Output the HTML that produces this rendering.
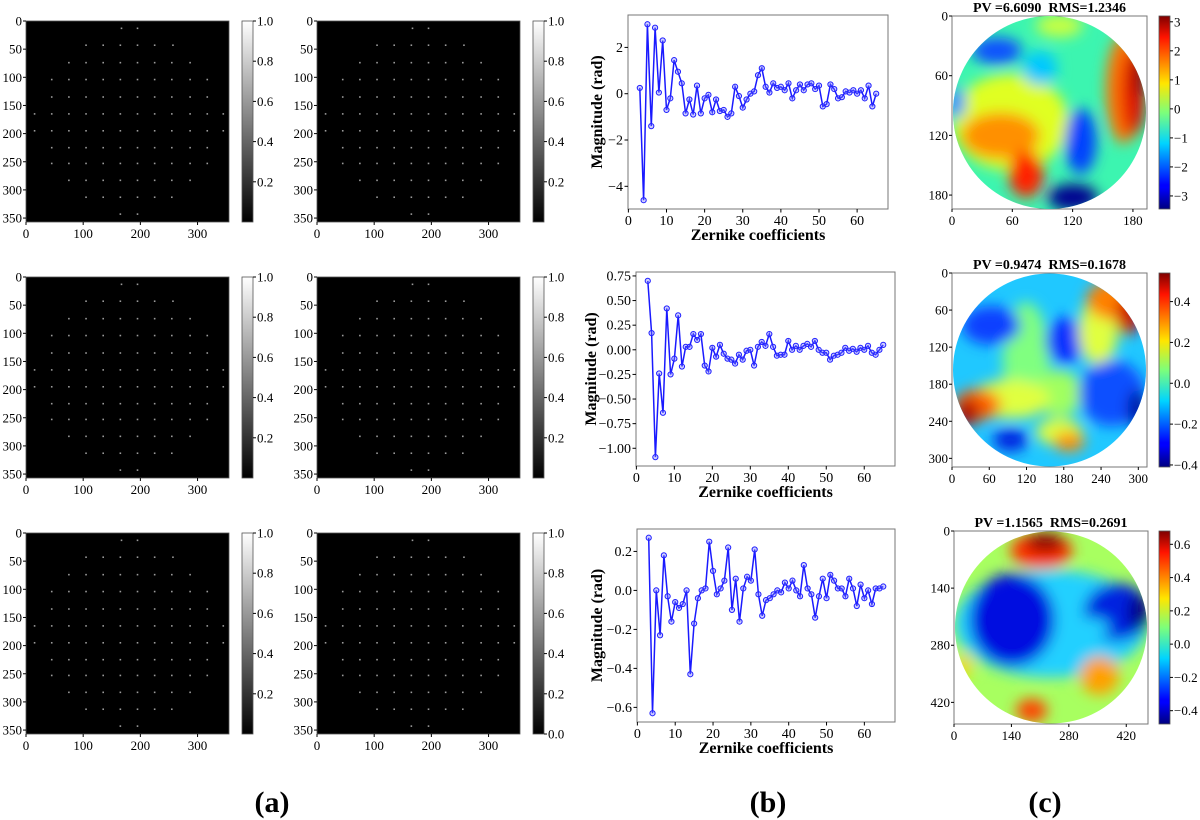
<!DOCTYPE html>
<html><head><meta charset="utf-8">
<style>
html,body{margin:0;padding:0;background:#fff;}
svg{display:block;font-family:"Liberation Serif",serif;}
</style></head>
<body>
<svg id="fig" width="1200" height="820" viewBox="0 0 1200 820" xmlns="http://www.w3.org/2000/svg">
<defs>
<linearGradient id="gray" x1="0" y1="1" x2="0" y2="0"><stop offset="0" stop-color="#000"/><stop offset="1" stop-color="#fff"/></linearGradient>
<linearGradient id="jet" x1="0" y1="1" x2="0" y2="0">
<stop offset="0" stop-color="#00007f"/><stop offset="0.11" stop-color="#0000ff"/><stop offset="0.125" stop-color="#0000ff"/>
<stop offset="0.34" stop-color="#00d4ff"/><stop offset="0.5" stop-color="#7dff7a"/><stop offset="0.65" stop-color="#ffe600"/>
<stop offset="0.89" stop-color="#ff1300"/><stop offset="1" stop-color="#7f0000"/></linearGradient>
<filter id="blur" x="-50%" y="-50%" width="200%" height="200%"><feGaussianBlur stdDeviation="7"/></filter>
</defs>
</svg>
<script>
// ---- data: Zernike coefficient magnitudes (index 3..65) ----
const zIndex = Array.from({length:63},(_,i)=>i+3);
const zRow1 = [0.25,-4.6,3.0,-1.4,2.85,0.05,2.3,-0.7,-0.2,1.45,0.95,0.45,-0.85,-0.25,-0.9,0.35,-0.85,-0.2,-0.05,-0.8,-0.25,-0.75,-0.7,-1.0,-0.85,0.3,-0.1,-0.6,-0.25,0.0,0.1,0.8,1.1,0.3,0.05,0.45,0.25,0.3,0.15,0.45,-0.2,0.15,0.4,0.15,0.4,0.45,0.2,0.35,-0.55,-0.45,0.4,0.2,-0.2,-0.15,0.1,0.05,0.15,0.0,0.15,-0.2,0.35,-0.55,0.0];
const zRow2 = [0.70,0.17,-1.09,-0.24,-0.64,0.42,-0.25,-0.09,0.35,-0.17,0.03,0.03,0.16,0.10,0.16,-0.16,-0.22,0.02,-0.07,0.05,-0.04,-0.09,-0.10,-0.14,-0.05,-0.10,-0.01,0.0,-0.16,0.03,0.08,0.04,0.16,0.03,-0.06,-0.05,-0.05,0.09,0.0,0.04,0.0,0.04,0.06,0.03,0.09,0.0,-0.03,-0.03,-0.10,-0.06,-0.05,-0.03,0.02,-0.01,0.01,-0.02,0.02,0.0,0.04,-0.03,-0.05,0.0,0.05];
const zRow3 = [0.27,-0.63,0.0,-0.23,0.18,-0.03,-0.16,-0.06,-0.09,-0.07,0.0,-0.43,-0.17,-0.04,0.0,0.01,0.25,0.10,-0.02,0.01,0.05,0.22,-0.10,0.06,-0.16,0.01,0.07,0.05,0.21,-0.02,-0.13,-0.05,-0.04,-0.02,0.0,-0.01,0.04,0.01,0.05,0.0,-0.03,0.13,0.01,-0.02,-0.14,-0.03,0.06,-0.04,0.08,0.05,0.01,0.01,-0.03,0.06,0.01,-0.08,0.03,-0.04,0.0,-0.07,0.01,0.01,0.02];
const xTicks = [0,10,20,30,40,50,60];
const yTicks1 = [-4,-2,0,2];
const yTicks2 = [-1.00,-0.75,-0.50,-0.25,0.00,0.25,0.50,0.75];
const yTicks3 = [-0.6,-0.4,-0.2,0.0,0.2];
const spotTicks = [0,50,100,150,200,250,300,350];
const spotXTicks = [0,100,200,300];
const grayTicks = [0.2,0.4,0.6,0.8,1.0];
const pvTitles = ["PV =6.6090  RMS=1.2346","PV =0.9474  RMS=0.1678","PV =1.1565  RMS=0.2691"];

const NS="http://www.w3.org/2000/svg";
const svg=document.getElementById('fig');
function el(tag,attrs,parent,text){const e=document.createElementNS(NS,tag);for(const k in attrs)e.setAttribute(k,attrs[k]);if(text!==undefined)e.textContent=text;(parent||svg).appendChild(e);return e;}
function grp(name){const g=el('g',{});return g;}

// ---- spot images (column a) ----
const spotRows=[[13,[167,195]],[43,[105,135,165,195,225,257]],[74,[75,105,135,165,195,225,255,287]],[104,[45,75,105,135,165,195,225,255,287,317]],[135,[45,75,105,135,165,195,225,255,287,317]],[165,[15,45,75,105,135,165,195,225,255,287,317,345]],[195,[15,45,75,105,135,165,195,225,255,287,317,345]],[225,[45,75,105,135,165,195,225,255,287,317]],[253,[45,75,105,135,165,195,225,255,287,317]],[283,[75,105,135,165,195,225,255,287]],[313,[105,135,165,195,225,255]],[343,[165,195]]];
const rowTops=[21,277,533];
function spotPanel(x0,y0,zeroLabel,name){
  const g=grp(name);
  const W=203,H=201,sx=W/355,sy=H/357;
  el('rect',{x:x0,y:y0,width:W,height:H,fill:'#000',stroke:'#555','stroke-width':0.8},g);
  spotRows.forEach(([yy,xs])=>xs.forEach(xx=>{const d=el('rect',{x:x0+xx*sx-0.8,y:y0+yy*sy-0.8,width:1.6,height:1.6,fill:'#9a9a9a'},g);}));
  spotTicks.forEach(t=>{const y=y0+t*sy;el('line',{x1:x0-3,y1:y,x2:x0,y2:y,stroke:'#000'},g);el('text',{x:x0-4,y:y+4.5,'font-size':13,'text-anchor':'end'},g,t);});
  spotXTicks.forEach(t=>{const x=x0+t*sx;el('line',{x1:x,y1:y0+H,x2:x,y2:y0+H+3,stroke:'#000'},g);el('text',{x:x,y:y0+H+16,'font-size':13,'text-anchor':'middle'},g,t);});
  const cx=x0+216,cw=11;
  const cb=el('rect',{x:cx,y:y0,width:cw,height:H,fill:'url(#gray)',stroke:'#555','stroke-width':0.8},g);
  
  const ticks=zeroLabel?[0.0].concat(grayTicks):grayTicks;
  ticks.forEach(t=>{const y=y0+H-(t*H);el('line',{x1:cx+cw,y1:y,x2:cx+cw+3,y2:y,stroke:'#000'},g);el('text',{x:cx+cw+4,y:y+4.5,'font-size':13},g,t.toFixed(1));});
}
rowTops.forEach((y0,r)=>{spotPanel(26,y0,false,'spot-image-row'+(r+1)+'-left');spotPanel(317,y0,r===2,'spot-image-row'+(r+1)+'-right');});

// ---- line charts (column b) ----
function lineChart(box,yr,yt,yfmt,vals,name,ylx){
  const g=grp(name);
  const [L,T,R,B]=box;
  const xs=v=>L+(v-(-0.1))/(68.2)*(R-L);
  const ys=v=>B-(v-yr[0])/(yr[1]-yr[0])*(B-T);
  el('rect',{x:L,y:T,width:R-L,height:B-T,fill:'#fff',stroke:'#777','stroke-width':1},g);
  xTicks.forEach(t=>{const x=xs(t);el('line',{x1:x,y1:B,x2:x,y2:B+3.5,stroke:'#000'},g);el('text',{x:x,y:B+16,'font-size':14,'text-anchor':'middle'},g,t);});
  yt.forEach(t=>{const y=ys(t);el('line',{x1:L-3.5,y1:y,x2:L,y2:y,stroke:'#000'},g);el('text',{x:L-5,y:y+4.5,'font-size':14,'text-anchor':'end'},g,yfmt(t));});
  const pts=vals.map((v,i)=>xs(zIndex[i]).toFixed(1)+','+ys(v).toFixed(1)).join(' ');
  const pl=el('polyline',{points:pts,fill:'none',stroke:'#1a1aff','stroke-width':1.5},g);
  
  vals.forEach((v,i)=>{const c=el('circle',{cx:xs(zIndex[i]),cy:ys(v),r:2.6,fill:'rgba(120,120,255,0.35)',stroke:'#2020ff','stroke-width':1},g);});
  const xl=el('text',{x:(L+R)/2,y:B+31,'font-size':16,'font-weight':'bold','text-anchor':'middle'},g,'Zernike coefficients');
  
  const my=(T+B)/2;
  const yl=el('text',{x:0,y:0,'font-size':16,'font-weight':'bold','text-anchor':'middle',transform:`translate(${ylx},${my}) rotate(-90)`},g,'Magnitude (rad)');
  
}
const f0=t=>t<0?'\u2212'+Math.abs(t):String(t);
const f2=t=>(t<0?'\u2212':'')+Math.abs(t).toFixed(2);
const f1=t=>(t<0?'\u2212':'')+Math.abs(t).toFixed(1);
lineChart([628,15,888,209],[-4.98,3.4],yTicks1,f0,zRow1,'coefficients-chart-row1',602);
lineChart([636,272,895,466],[-1.18,0.79],yTicks2,f2,zRow2,'coefficients-chart-row2',596);
lineChart([637,529,895,722],[-0.675,0.315],yTicks3,f1,zRow3,'coefficients-chart-row3',602);

// ---- wavefront maps (column c) ----
const maps=[
 {box:[952,16,1147,209],N:194,xt:[0,60,120,180],cr:[-3.45,3.2],ct:[-3,-2,-1,0,1,2,3],fmt:f0,base:'#3cf5b0',blobs:[
  [0.3,0.55,0.3,0.25,'#e0ff20'],[0.25,0.62,0.2,0.12,'#ff9000'],[0.38,0.82,0.09,0.12,'#ff2000'],[0.55,0.05,0.12,0.06,'#c8ff40'],
  [0.23,0.18,0.13,0.07,'#0850ff'],[0.45,0.27,0.09,0.09,'#00c8ff'],[0.02,0.45,0.05,0.08,'#3090ff'],
  [0.88,0.38,0.09,0.28,'#ff7000'],[0.93,0.4,0.06,0.22,'#e00800'],[0.96,0.3,0.035,0.12,'#a00000'],
  [0.66,0.65,0.08,0.17,'#0040ff'],[0.62,0.94,0.13,0.07,'#000090']]},
 {box:[952,273,1147,467],N:314,xt:[0,60,120,180,240,300],cr:[-0.41,0.54],ct:[-0.4,-0.2,0.0,0.2,0.4],fmt:f1,base:'#20c8ff',blobs:[
  [0.38,0.45,0.12,0.3,'#80ff80'],[0.55,0.62,0.12,0.12,'#a0ff60'],[0.2,0.27,0.15,0.1,'#0840ff'],[0.58,0.35,0.1,0.12,'#0830ff'],
  [0.75,0.3,0.1,0.18,'#e0ff40'],[0.82,0.14,0.13,0.1,'#ff8000'],[0.9,0.22,0.06,0.1,'#d00000'],
  [0.3,0.65,0.2,0.1,'#e0ff40'],[0.13,0.68,0.12,0.08,'#ff6000'],[0.08,0.72,0.06,0.07,'#b00000'],
  [0.3,0.86,0.09,0.06,'#0020e0'],[0.55,0.82,0.12,0.07,'#e0ff40'],[0.6,0.87,0.08,0.05,'#ff9000'],
  [0.82,0.62,0.17,0.17,'#1050ff'],[0.95,0.7,0.05,0.1,'#0010a0']]},
 {box:[954,531,1148,724],N:473,xt:[0,140,280,420],cr:[-0.48,0.68],ct:[-0.4,-0.2,0.0,0.2,0.4,0.6],fmt:f1,base:'#a8ff60',blobs:[
  [0.5,0.48,0.5,0.28,'#20d0ff'],[0.45,0.1,0.16,0.09,'#ff3000'],[0.47,0.06,0.1,0.05,'#900000'],
  [0.3,0.46,0.22,0.24,'#0010e0'],[0.84,0.42,0.17,0.15,'#0020e0'],[0.95,0.42,0.05,0.1,'#000080'],
  [0.7,0.5,0.1,0.05,'#20d0ff'],
  [0.75,0.75,0.1,0.1,'#ffa000'],[0.4,0.93,0.08,0.06,'#ff4000'],[0.05,0.7,0.04,0.06,'#ffd000']]}
];
maps.forEach((m,i)=>{
  const g=grp('wavefront-map-row'+(i+1));
  const [L,T,R,B]=m.box,W=R-L,H=B-T;
  el('rect',{x:L,y:T,width:W,height:H,fill:'#fff',stroke:'#777'},g);
  const cp=el('clipPath',{id:'cp'+i},g);el('circle',{cx:L+W/2,cy:T+H/2,r:W/2-1},cp);
  const inner=el('g',{'clip-path':`url(#cp${i})`},g);
  el('rect',{x:L,y:T,width:W,height:H,fill:m.base},inner);
  const bg=el('g',{filter:'url(#blur)'},inner);
  m.blobs.forEach(b=>el('ellipse',{cx:L+b[0]*W,cy:T+b[1]*H,rx:b[2]*W,ry:b[3]*H,fill:b[4]},bg));
  m.xt.forEach(t=>{const x=L+t/m.N*W;el('line',{x1:x,y1:B,x2:x,y2:B+3,stroke:'#000'},g);el('text',{x:x,y:B+16,'font-size':13,'text-anchor':'middle'},g,t);
    const y=T+t/m.N*H;el('line',{x1:L-3,y1:y,x2:L,y2:y,stroke:'#000'},g);el('text',{x:L-4,y:y+4.5,'font-size':13,'text-anchor':'end'},g,t);});
  const tt=el('text',{x:L+W/2,y:T-4,'font-size':14,'font-weight':'bold','text-anchor':'middle',style:'white-space:pre'},g,pvTitles[i]);
  
  const cx=1159,cw=11;
  const cb=el('rect',{x:cx,y:T,width:cw,height:H,fill:'url(#jet)',stroke:'#555','stroke-width':0.8},g);
  
  m.ct.forEach(t=>{const y=B-(t-m.cr[0])/(m.cr[1]-m.cr[0])*H;el('line',{x1:cx+cw,y1:y,x2:cx+cw+3,y2:y,stroke:'#000'},g);el('text',{x:cx+cw+4,y:y+4.5,'font-size':13},g,m.fmt(t));});
});

// ---- panel labels ----
[['(a)',272],['(b)',768],['(c)',1045]].forEach(([t,x])=>{const e=el('text',{x:x,y:812,'font-size':30,'font-weight':'bold','text-anchor':'middle'},svg,t);
  });
</script>
</body></html>
